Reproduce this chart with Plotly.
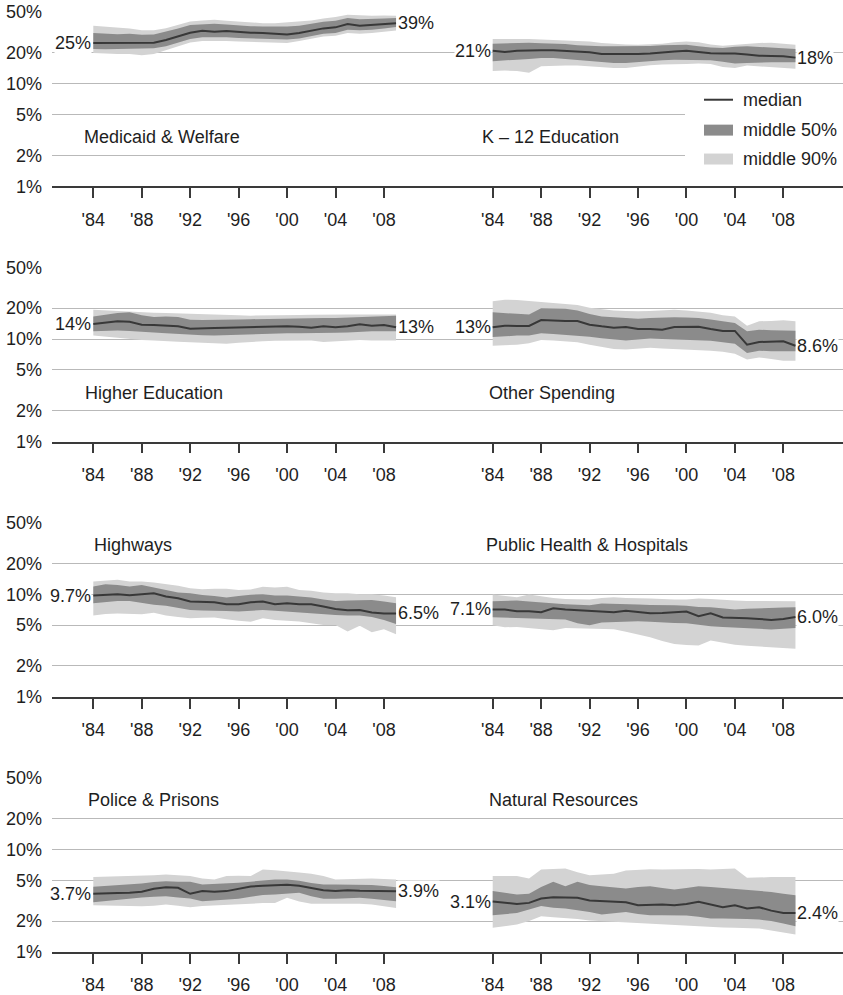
import math
import plotly.graph_objects as go

# ---------------------------------------------------------------------------
# Data: state spending shares (% of total), 1984-2009
# ---------------------------------------------------------------------------
years = list(range(1984, 2010))
tick_years = [1984, 1988, 1992, 1996, 2000, 2004, 2008]
tick_year_labels = ["'84", "'88", "'92", "'96", "'00", "'04", "'08"]
y_tick_values = [1, 2, 5, 10, 20, 50]
y_tick_labels = ["1%", "2%", "5%", "10%", "20%", "50%"]

panel_titles = ["Medicaid & Welfare", "K \u2013 12 Education", "Higher Education",
                "Other Spending", "Highways", "Public Health & Hospitals",
                "Police & Prisons", "Natural Resources"]

medicaid_median = [25.0, 25.0, 24.8, 25.2, 25.0, 25.2, 26.7, 28.8, 31.5, 32.9, 32.2, 32.7, 32.0,
                   31.5, 31.3, 31.0, 30.3, 31.3, 33.2, 34.7, 35.5, 38.2, 36.8, 37.4, 38.2, 39.0]
medicaid_p95 = [36.9, 36.2, 35.2, 34.7, 33.2, 33.2, 34.9, 37.5, 40.5, 41.5, 42.1, 41.2, 40.3,
                39.7, 39.0, 39.0, 39.7, 40.3, 41.5, 43.3, 44.7, 47.0, 46.4, 46.0, 46.4, 46.0]
medicaid_p75 = [31.2, 30.8, 30.5, 30.8, 30.1, 30.3, 32.2, 34.7, 37.4, 38.2, 38.5, 37.9, 37.1,
                36.5, 36.2, 36.0, 36.2, 36.8, 38.5, 40.3, 41.2, 43.7, 42.7, 42.7, 43.3, 43.9]
medicaid_p25 = [21.9, 21.7, 21.9, 22.0, 21.9, 22.2, 23.2, 25.3, 27.3, 28.4, 28.6, 28.4, 27.9,
                27.7, 27.5, 27.3, 27.1, 27.7, 29.4, 30.8, 31.2, 33.6, 33.2, 33.6, 34.7, 35.7]
medicaid_p5 = [20.0, 19.7, 19.5, 19.5, 19.0, 19.5, 21.2, 23.2, 25.3, 26.1, 26.3, 26.1, 25.9,
               25.7, 25.6, 25.3, 25.0, 26.1, 27.5, 29.0, 29.4, 31.2, 30.8, 31.2, 32.2, 33.0]

k12_median = [21.0, 20.4, 21.0, 21.2, 21.2, 21.2, 21.0, 20.7, 20.3, 19.5, 19.4, 19.4, 19.5,
              19.7, 20.3, 20.7, 21.0, 20.3, 19.9, 19.7, 19.7, 19.3, 18.8, 18.7, 18.6, 18.0]
k12_p95 = [27.3, 27.3, 27.5, 27.3, 27.0, 26.8, 26.6, 26.2, 25.8, 25.0, 24.4, 24.2, 24.1,
           24.2, 24.6, 25.4, 25.8, 25.4, 24.2, 23.5, 24.0, 24.8, 25.0, 25.2, 24.8, 24.1]
k12_p75 = [24.6, 24.8, 25.4, 25.2, 24.8, 24.6, 24.4, 23.8, 23.4, 23.2, 23.2, 23.2, 23.2,
           23.4, 23.8, 24.1, 24.0, 23.2, 22.6, 22.4, 23.0, 23.2, 22.8, 22.6, 22.2, 21.9]
k12_p25 = [16.6, 16.8, 17.2, 17.5, 17.9, 17.9, 17.5, 17.0, 16.6, 16.2, 16.0, 16.0, 16.4,
           16.8, 17.0, 17.2, 17.2, 17.2, 17.0, 16.4, 15.8, 16.0, 16.2, 16.2, 16.2, 16.2]
k12_p5 = [13.3, 13.5, 13.3, 12.8, 14.8, 15.0, 15.1, 15.1, 14.8, 14.5, 14.3, 14.3, 14.8,
          15.2, 15.4, 15.4, 15.6, 15.8, 15.6, 14.6, 14.3, 15.1, 14.8, 14.6, 14.2, 14.0]

higher_ed_median = [14.0, 14.5, 14.9, 14.7, 13.8, 13.7, 13.6, 13.3, 12.6, 12.8, 12.8, 12.9, 13.0,
                    13.1, 13.2, 13.2, 13.3, 13.2, 12.9, 13.3, 13.0, 13.3, 13.9, 13.5, 13.7, 13.0]
higher_ed_p95 = [19.3, 19.0, 18.8, 18.6, 18.2, 18.0, 17.9, 17.7, 17.6, 17.3, 17.1, 17.0, 17.0,
                 16.9, 16.9, 16.9, 17.0, 17.1, 17.2, 17.3, 17.3, 17.3, 17.3, 17.3, 17.3, 17.3]
higher_ed_p75 = [16.6, 17.3, 17.9, 18.2, 17.0, 16.4, 16.6, 16.4, 15.4, 15.3, 15.3, 15.4, 15.5,
                 15.6, 15.7, 15.7, 15.8, 15.8, 15.9, 16.0, 16.0, 16.2, 16.5, 16.6, 16.7, 16.9]
higher_ed_p25 = [11.9, 12.0, 12.1, 12.0, 11.9, 11.6, 11.4, 11.2, 11.0, 10.9, 10.8, 10.9, 11.1,
                 11.2, 11.3, 11.4, 11.4, 11.4, 11.4, 11.4, 11.5, 11.6, 11.8, 11.9, 11.9, 11.9]
higher_ed_p5 = [10.8, 10.5, 10.2, 10.0, 9.8, 9.7, 9.5, 9.4, 9.3, 9.2, 9.1, 9.0, 9.2,
                9.4, 9.5, 9.6, 9.6, 9.7, 9.7, 9.35, 9.5, 9.7, 9.8, 9.7, 9.7, 9.7]

other_median = [13.0, 13.5, 13.4, 13.4, 15.3, 15.1, 15.0, 15.0, 13.8, 13.3, 12.9, 13.1, 12.5,
                12.5, 12.3, 13.1, 13.2, 13.2, 12.5, 12.0, 12.0, 8.8, 9.35, 9.4, 9.5, 8.6]
other_p95 = [23.3, 24.2, 24.0, 23.4, 22.9, 22.5, 22.0, 21.4, 20.2, 19.5, 19.0, 18.8, 18.6,
             18.8, 19.0, 19.3, 19.0, 18.6, 18.0, 17.0, 16.6, 13.5, 14.9, 15.0, 15.2, 14.9]
other_p75 = [18.2, 18.0, 17.6, 17.3, 20.0, 19.8, 19.7, 19.0, 17.5, 16.6, 16.3, 16.0, 15.8,
             16.0, 16.2, 16.3, 16.2, 16.0, 15.5, 14.8, 14.3, 11.9, 12.3, 12.2, 12.1, 12.06]
other_p25 = [10.45, 10.7, 10.8, 10.8, 11.4, 11.2, 11.0, 10.8, 10.5, 10.2, 9.9, 9.7, 9.9,
             10.1, 10.0, 9.9, 9.8, 9.7, 9.6, 9.3, 9.0, 7.3, 7.7, 7.6, 7.58, 7.58]
other_p5 = [8.6, 8.7, 8.8, 9.1, 9.8, 9.7, 9.5, 9.3, 8.8, 8.4, 8.0, 7.9, 8.1,
            8.2, 8.1, 8.0, 8.0, 7.9, 7.7, 7.5, 7.2, 6.3, 6.6, 6.4, 6.15, 6.15]

highways_median = [9.7, 9.85, 10.0, 9.78, 10.0, 10.2, 9.5, 9.14, 8.48, 8.48, 8.35, 7.98, 7.98,
                   8.35, 8.48, 7.98, 8.15, 7.98, 7.98, 7.58, 7.19, 6.98, 7.03, 6.62, 6.5, 6.5]
highways_p95 = [13.3, 13.6, 13.8, 13.3, 13.3, 13.0, 12.6, 12.1, 11.4, 11.2, 11.3, 11.3, 11.0,
                11.1, 11.8, 11.6, 11.8, 11.0, 10.8, 10.4, 10.2, 10.2, 10.0, 10.0, 9.7, 9.35]
highways_p75 = [11.9, 12.5, 12.3, 11.9, 12.3, 11.6, 11.0, 10.4, 10.2, 9.8, 9.6, 9.28, 9.6,
                9.9, 10.0, 9.7, 9.7, 9.5, 9.28, 8.9, 8.6, 8.7, 8.8, 8.8, 8.5, 8.17]
highways_p25 = [8.17, 8.4, 8.6, 8.6, 8.2, 7.9, 7.7, 7.4, 7.03, 6.95, 6.93, 6.85, 6.77,
                6.85, 7.03, 6.9, 6.75, 6.67, 6.5, 6.35, 6.28, 6.2, 6.19, 6.0, 5.6, 5.13]
highways_p5 = [6.19, 6.4, 6.5, 6.45, 6.37, 6.6, 6.2, 6.0, 5.83, 5.88, 5.92, 5.7, 5.5,
               5.4, 5.83, 5.6, 5.5, 5.41, 5.2, 5.01, 5.01, 4.32, 4.94, 4.25, 4.55, 4.07]

health_median = [7.1, 7.08, 6.82, 6.82, 6.67, 7.3, 7.08, 6.98, 6.82, 6.82, 6.67, 6.88, 6.67,
                 6.52, 6.57, 6.62, 6.77, 6.1, 6.52, 5.92, 5.92, 5.83, 5.74, 5.61, 5.74, 6.0]
health_p95 = [9.93, 9.6, 9.35, 9.93, 9.5, 9.2, 9.0, 8.9, 8.87, 9.2, 9.35, 9.2, 9.2,
              9.1, 9.0, 8.87, 8.9, 9.07, 9.0, 8.8, 8.67, 8.6, 8.6, 8.55, 8.54, 8.54]
health_p75 = [8.54, 8.6, 8.67, 8.5, 8.3, 8.23, 8.0, 7.9, 7.81, 8.1, 8.0, 7.95, 7.92,
              7.85, 7.85, 7.81, 7.7, 7.5, 7.46, 7.3, 7.08, 7.2, 7.3, 7.36, 7.4, 7.46]
health_p25 = [5.96, 5.9, 5.87, 5.87, 5.8, 5.7, 5.66, 5.2, 4.98, 5.3, 5.37, 5.4, 5.45,
              5.4, 5.3, 5.25, 5.2, 5.0, 4.87, 4.8, 4.75, 4.69, 4.6, 4.52, 4.6, 4.69]
health_p5 = [4.98, 4.76, 4.8, 4.69, 4.55, 4.45, 4.69, 4.65, 4.6, 4.62, 4.55, 4.3, 4.04,
             3.8, 3.5, 3.27, 3.2, 3.17, 3.53, 3.35, 3.22, 3.15, 3.1, 3.05, 3.0, 2.94]

police_median = [3.7, 3.75, 3.75, 3.77, 3.86, 4.13, 4.28, 4.22, 3.69, 3.92, 3.86, 3.92, 4.13,
                 4.35, 4.42, 4.48, 4.52, 4.42, 4.22, 4.0, 3.92, 4.0, 3.95, 3.92, 3.89, 3.9]
police_p95 = [5.37, 5.4, 5.45, 5.49, 5.55, 5.6, 5.69, 5.6, 5.49, 5.2, 5.09, 5.5, 5.55,
              5.49, 6.37, 6.25, 6.14, 5.95, 5.78, 5.5, 5.09, 5.15, 5.21, 5.2, 5.15, 5.09]
police_p75 = [4.32, 4.4, 4.5, 4.55, 4.65, 4.8, 4.9, 4.85, 4.83, 4.55, 4.6, 4.7, 4.72,
              4.85, 4.95, 5.09, 5.09, 4.95, 4.7, 4.55, 4.55, 4.55, 4.55, 4.5, 4.4, 4.28]
police_p25 = [3.06, 3.15, 3.25, 3.3, 3.4, 3.45, 3.5, 3.4, 3.32, 3.13, 3.2, 3.25, 3.3,
              3.45, 3.6, 3.63, 3.7, 3.77, 3.5, 3.3, 3.3, 3.35, 3.37, 3.3, 3.2, 3.13]
police_p5 = [2.86, 2.84, 2.82, 2.8, 2.79, 2.83, 2.9, 2.82, 2.73, 2.8, 2.85, 2.9, 2.95,
             2.96, 3.0, 3.01, 3.37, 3.1, 2.95, 2.95, 2.95, 2.95, 2.95, 2.9, 2.8, 2.69]

natural_median = [3.1, 3.01, 2.94, 3.01, 3.32, 3.42, 3.37, 3.37, 3.17, 3.13, 3.08, 3.06, 2.86,
                  2.9, 2.9, 2.86, 2.94, 3.08, 2.9, 2.73, 2.86, 2.65, 2.73, 2.53, 2.4, 2.4]
natural_p95 = [5.49, 5.49, 5.49, 5.21, 6.37, 6.45, 6.52, 6.0, 5.61, 5.7, 5.78, 6.24, 6.37,
               6.4, 6.37, 6.4, 6.52, 6.45, 6.37, 6.45, 6.52, 5.28, 5.37, 5.37, 5.37, 5.37]
natural_p75 = [3.92, 3.75, 3.63, 3.69, 4.3, 4.83, 4.38, 4.83, 4.5, 4.38, 4.25, 4.16, 4.3,
               4.38, 4.2, 4.07, 4.2, 4.38, 4.3, 4.2, 4.16, 4.0, 3.92, 3.85, 3.7, 3.58]
natural_p25 = [2.28, 2.35, 2.4, 2.6, 2.8, 2.7, 2.65, 2.55, 2.46, 2.32, 2.4, 2.46, 2.35,
               2.28, 2.28, 2.27, 2.27, 2.2, 2.12, 2.12, 2.12, 2.1, 2.07, 2.0, 1.9, 1.78]
natural_p5 = [1.72, 1.78, 1.85, 2.0, 2.23, 2.18, 2.15, 2.1, 2.03, 2.0, 1.96, 1.93, 1.9,
              1.88, 1.86, 1.84, 1.82, 1.78, 1.74, 1.73, 1.72, 1.7, 1.69, 1.62, 1.55, 1.48]

panels = [
    (medicaid_median, medicaid_p5, medicaid_p25, medicaid_p75, medicaid_p95),
    (k12_median, k12_p5, k12_p25, k12_p75, k12_p95),
    (higher_ed_median, higher_ed_p5, higher_ed_p25, higher_ed_p75, higher_ed_p95),
    (other_median, other_p5, other_p25, other_p75, other_p95),
    (highways_median, highways_p5, highways_p25, highways_p75, highways_p95),
    (health_median, health_p5, health_p25, health_p75, health_p95),
    (police_median, police_p5, police_p25, police_p75, police_p95),
    (natural_median, natural_p5, natural_p25, natural_p75, natural_p95),
]

# ---------------------------------------------------------------------------
# Styling / geometry
# ---------------------------------------------------------------------------
W, H = 843, 995
ML, MR, MT, MB = 52, 0, 12, 40
PW, PH = W - ML - MR, H - MT - MB
ROW_PITCH, PANEL_H = 256, 175
LEFT_W = 399.4                       # pixel width of the left column
PX_PER_YEAR = 12.11
X_START = 1984 - 41.3 / PX_PER_YEAR

FONT = "Liberation Sans, Arial, Helvetica, sans-serif"
TEXT = "#1e1e1e"
GRID = "#b9b9b9"
AXIS = "#3a3a3a"
LIGHT = "#d3d3d3"
DARK = "#8b8b8b"
MEDIAN = "#383838"
FS = 18

# title placement: (fraction across panel, % level of text centre)
title_pos = [(0.075, 3.0), (0.073, 3.0), (0.078, 3.0), (0.090, 3.0),
             (0.099, 30.0), (0.084, 30.0), (0.085, 30.0), (0.090, 30.0)]


def fmt(v):
    return f"{v:.0f}%" if v >= 10 else f"{v:.1f}%"


def px_x(px):
    return (px - ML) / PW


def px_y(py):
    return (H - MB - py) / PH


fig = go.Figure()
layout = {}
annotations = []

for k, (med, p5, p25, p75, p95) in enumerate(panels):
    r, c = divmod(k, 2)
    n = k + 1
    xa = "x" if n == 1 else f"x{n}"
    ya = "y" if n == 1 else f"y{n}"

    # 90% band, 50% band, median
    fig.add_trace(go.Scatter(x=years, y=p5, mode="lines", line=dict(width=0),
                             hoverinfo="skip", showlegend=False, xaxis=xa, yaxis=ya))
    fig.add_trace(go.Scatter(x=years, y=p95, mode="lines", line=dict(width=0),
                             fill="tonexty", fillcolor=LIGHT, name="middle 90%",
                             showlegend=False, xaxis=xa, yaxis=ya))
    fig.add_trace(go.Scatter(x=years, y=p25, mode="lines", line=dict(width=0),
                             hoverinfo="skip", showlegend=False, xaxis=xa, yaxis=ya))
    fig.add_trace(go.Scatter(x=years, y=p75, mode="lines", line=dict(width=0),
                             fill="tonexty", fillcolor=DARK, name="middle 50%",
                             showlegend=False, xaxis=xa, yaxis=ya))
    fig.add_trace(go.Scatter(x=years, y=med, mode="lines",
                             line=dict(color=MEDIAN, width=2), name="median",
                             showlegend=False, xaxis=xa, yaxis=ya))

    split = LEFT_W / PW
    xdom = [0, split] if c == 0 else [split, 1]
    width_px = LEFT_W if c == 0 else PW - LEFT_W
    top = 1 - (ROW_PITCH * r) / PH
    bottom = 1 - (ROW_PITCH * r + PANEL_H) / PH

    layout["xaxis" if n == 1 else f"xaxis{n}"] = dict(
        domain=xdom, anchor=ya, range=[X_START, X_START + width_px / PX_PER_YEAR],
        showgrid=False, zeroline=False, showline=True, linecolor=AXIS, linewidth=1.5,
        ticks="outside", ticklen=10, tickwidth=1.5, tickcolor=AXIS,
        tickvals=tick_years, ticktext=tick_year_labels, ticklabelstandoff=6,
        tickfont=dict(size=FS, color=TEXT, family=FONT), fixedrange=True,
    )
    layout["yaxis" if n == 1 else f"yaxis{n}"] = dict(
        domain=[bottom, top], anchor=xa, type="log",
        range=[0, math.log10(50) + 0.001],
        showgrid=True, gridcolor=GRID, gridwidth=1.4, zeroline=False, showline=False,
        tickvals=y_tick_values, ticktext=y_tick_labels, ticks="",
        showticklabels=(c == 0), ticklabelstandoff=9,
        tickfont=dict(size=FS, color=TEXT, family=FONT), fixedrange=True,
    )

    # start / end value labels
    annotations.append(dict(x=years[0], y=math.log10(med[0]), xref=xa, yref=ya,
                            text=fmt(med[0]), showarrow=False, xanchor="right",
                            yanchor="middle", xshift=-1, bgcolor="white", borderpad=0,
                            font=dict(size=FS, color=TEXT, family=FONT)))
    annotations.append(dict(x=years[-1], y=math.log10(med[-1]), xref=xa, yref=ya,
                            text=fmt(med[-1]), showarrow=False, xanchor="left",
                            yanchor="middle", xshift=1, bgcolor="white", borderpad=0,
                            font=dict(size=FS, color=TEXT, family=FONT)))

    # panel title
    tx, ty = title_pos[k]
    annotations.append(dict(x=tx, y=math.log10(ty), xref=f"{xa} domain", yref=ya,
                            text=panel_titles[k], showarrow=False, xanchor="left",
                            yanchor="middle", font=dict(size=FS, color=TEXT, family=FONT)))

# key, drawn in the upper-right panel
shapes = [
    dict(type="rect", xref="paper", yref="paper", x0=px_x(685), x1=px_x(843),
         y0=px_y(172), y1=px_y(90), fillcolor="white", line=dict(width=0), layer="above"),
    dict(type="line", xref="paper", yref="paper", x0=px_x(704), x1=px_x(733),
         y0=px_y(100), y1=px_y(100), line=dict(color=MEDIAN, width=2), layer="above"),
    dict(type="rect", xref="paper", yref="paper", x0=px_x(704), x1=px_x(733),
         y0=px_y(136), y1=px_y(125), fillcolor=DARK, line=dict(width=0), layer="above"),
    dict(type="rect", xref="paper", yref="paper", x0=px_x(704), x1=px_x(733),
         y0=px_y(165), y1=px_y(154), fillcolor=LIGHT, line=dict(width=0), layer="above"),
]
for label, py in [("median", 100), ("middle 50%", 130.5), ("middle 90%", 159.5)]:
    annotations.append(dict(x=px_x(741), y=px_y(py), xref="paper", yref="paper",
                            text=label, showarrow=False, xanchor="left", yanchor="middle",
                            font=dict(size=FS, color=TEXT, family=FONT)))

fig.update_layout(
    width=W, height=H, margin=dict(l=ML, r=MR, t=MT, b=MB, pad=0),
    paper_bgcolor="white", plot_bgcolor="white", showlegend=False,
    font=dict(family=FONT, size=FS, color=TEXT),
    annotations=annotations, shapes=shapes, **layout,
)

fig.write_html("out.html", config={"displayModeBar": False})
